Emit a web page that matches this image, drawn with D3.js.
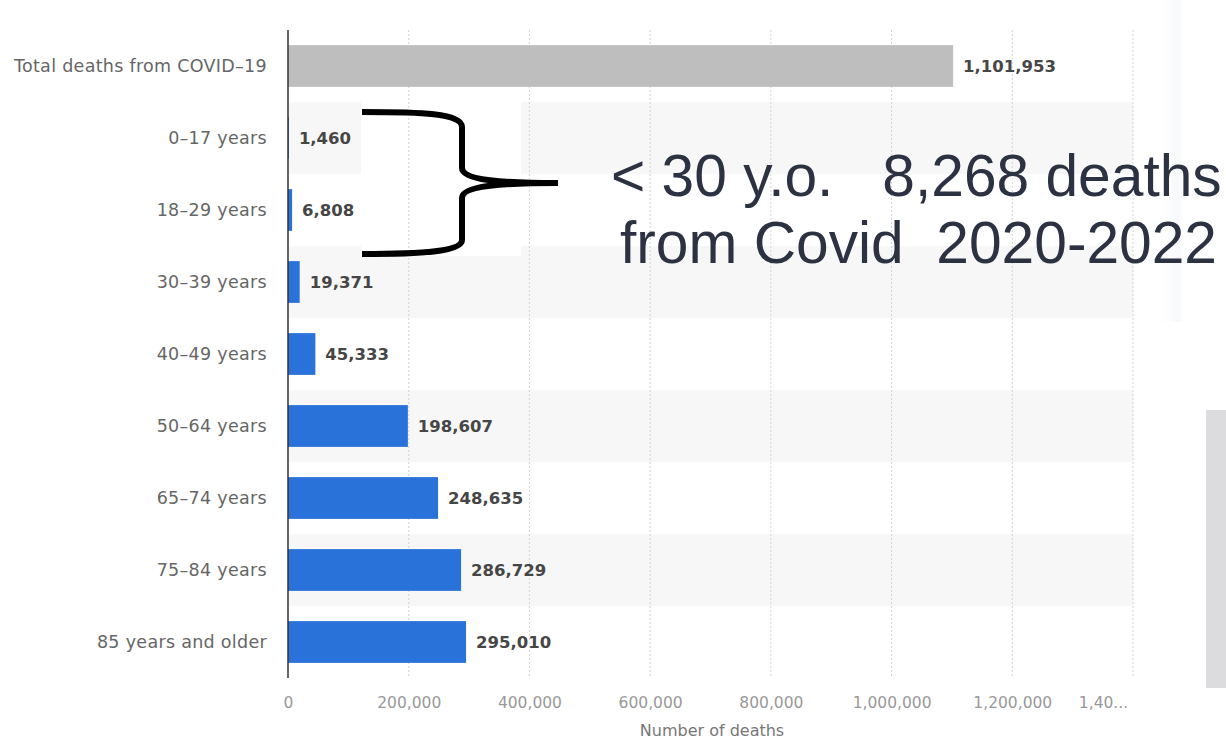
<!DOCTYPE html>
<html>
<head>
<meta charset="utf-8">
<script src="https://cdn.jsdelivr.net/npm/d3@7"></script>
<style>
  html, body { margin: 0; padding: 0; background: #fff; }
  svg { display: block; }
</style>
</head>
<body>
<div id="chart"></div>
<script>
// Data
const categories = [
    "Total deaths from COVID-19",
    "0-17 years",
    "18-29 years",
    "30-39 years",
    "40-49 years",
    "50-64 years",
    "65-74 years",
    "75-84 years",
    "85 years and older"
];
const deaths = [1101953, 1460, 6808, 19371, 45333, 198607, 248635, 286729, 295010];
const xTicks = [0, 200000, 400000, 600000, 800000, 1000000, 1200000, 1400000];
const xTickLabels = ["0", "200,000", "400,000", "600,000", "800,000", "1,000,000", "1,200,000", "1,40..."];
const annotationLines = ["< 30 y.o.   8,268 deaths", "from Covid  2020-2022"];

const width = 1226;
const height = 740;
const fmt = d3.format(",");

const svg = d3.select("#chart")
    .append("svg")
    .attr("width", width)
    .attr("height", height);

const x = d3.scaleLinear()
    .domain([0, 1400000])
    .range([288, 1133]);

// rows (for the zebra stripes) and bars inside them
const rows = d3.scaleBand()
    .domain(categories)
    .range([30, 678])
    .padding(0);

const y = d3.scaleBand()
    .domain(categories)
    .range([30, 678])
    .paddingInner(0.42)
    .paddingOuter(0.21);

// faint decorations on the right edge
const shade = svg.append("defs").append("linearGradient")
    .attr("id", "shade");
shade.append("stop").attr("offset", "0%").attr("stop-color", "#fff").attr("stop-opacity", 0);
shade.append("stop").attr("offset", "70%").attr("stop-color", "#eef0f3").attr("stop-opacity", 1);
shade.append("stop").attr("offset", "100%").attr("stop-color", "#fff").attr("stop-opacity", 0);
svg.append("rect")
    .attr("x", 1156).attr("y", 0)
    .attr("width", 32).attr("height", 322)
    .attr("fill", "url(#shade)")
    .attr("opacity", 0.5);
svg.append("rect")
    .attr("x", 1206).attr("y", 410)
    .attr("width", 20).attr("height", 278)
    .attr("fill", "#dcdcde");

// zebra stripes
svg.append("g")
    .selectAll("rect")
    .data(categories.filter((d, i) => i % 2 === 1))
    .join("rect")
    .attr("x", x(0))
    .attr("y", d => rows(d))
    .attr("width", x(1400000) - x(0))
    .attr("height", rows.bandwidth())
    .attr("fill", "#f7f7f7");

// white patch pasted behind the brace
svg.append("rect")
    .attr("x", 361).attr("y", rows(categories[1]))
    .attr("width", 160).attr("height", 154)
    .attr("fill", "#fff");

// grid lines
svg.append("g")
    .selectAll("line")
    .data(xTicks.slice(1))
    .join("line")
    .attr("x1", d => x(d))
    .attr("x2", d => x(d))
    .attr("y1", 30)
    .attr("y2", 678)
    .attr("stroke", "#d4d4d4")
    .attr("stroke-width", 1)
    .attr("stroke-dasharray", "2,2");

// bars
svg.append("g")
    .selectAll("rect")
    .data(deaths)
    .join("rect")
    .attr("x", x(0))
    .attr("y", (d, i) => y(categories[i]))
    .attr("width", d => x(d) - x(0))
    .attr("height", y.bandwidth())
    .attr("fill", (d, i) => i === 0 ? "#bebebe" : "#2872da");

// value labels
svg.append("g")
    .selectAll("text")
    .data(deaths)
    .join("text")
    .attr("x", d => x(d) + 10)
    .attr("y", (d, i) => y(categories[i]) + y.bandwidth() / 2)
    .attr("dy", "0.35em")
    .attr("font-family", "DejaVu Sans, sans-serif")
    .attr("font-size", "16.5px")
    .attr("font-weight", "bold")
    .attr("fill", "#464646")
    .text(d => fmt(d));

// category labels
svg.append("g")
    .selectAll("text")
    .data(categories)
    .join("text")
    .attr("x", 267)
    .attr("y", d => y(d) + y.bandwidth() / 2)
    .attr("dy", "0.35em")
    .attr("text-anchor", "end")
    .attr("font-family", "DejaVu Sans, sans-serif")
    .attr("font-size", "17.5px")
    .attr("letter-spacing", "0.3px")
    .attr("fill", "#666")
    .text(d => d.replace(/-/g, "\u2013"));

// y axis line
svg.append("line")
    .attr("x1", x(0)).attr("x2", x(0))
    .attr("y1", 30).attr("y2", 678)
    .attr("stroke", "#333")
    .attr("stroke-width", 1.5);

// x axis tick labels
const xAxis = d3.axisBottom(x)
    .tickValues(xTicks)
    .tickSize(0)
    .tickPadding(0)
    .tickFormat((d, i) => xTickLabels[i]);

const gx = svg.append("g")
    .attr("transform", "translate(0,697)")
    .call(xAxis);
gx.select(".domain").remove();
gx.selectAll("text")
    .attr("font-family", "DejaVu Sans, sans-serif")
    .attr("font-size", "15.5px")
    .attr("fill", "#999");
gx.selectAll(".tick").filter((d, i) => i === xTicks.length - 1)
    .select("text").attr("dx", "-30");

svg.append("text")
    .attr("x", 712)
    .attr("y", 736)
    .attr("text-anchor", "middle")
    .attr("font-family", "DejaVu Sans, sans-serif")
    .attr("font-size", "16px")
    .attr("fill", "#777")
    .text("Number of deaths");

// brace annotation
const brace = svg.append("g")
    .attr("fill", "none")
    .attr("stroke", "#000")
    .attr("stroke-width", 6);
brace.append("path")
    .attr("d", "M362,112 C420,112 462,113 462,127 L462,168 C462,180 500,183 558,183");
brace.append("path")
    .attr("d", "M558,183 C500,183 462,186 462,198 L462,240 C462,252 420,254 362,254");

svg.append("g")
    .selectAll("text")
    .data(annotationLines)
    .join("text")
    .attr("x", (d, i) => i === 0 ? 611 : 620)
    .attr("y", (d, i) => 196 + i * 67)
    .attr("font-family", "Liberation Sans, Arial, sans-serif")
    .attr("font-size", "58.7px")
    .attr("fill", "#2d3243")
    .attr("xml:space", "preserve")
    .style("white-space", "pre")
    .text(d => d);
</script>
</body>
</html>
